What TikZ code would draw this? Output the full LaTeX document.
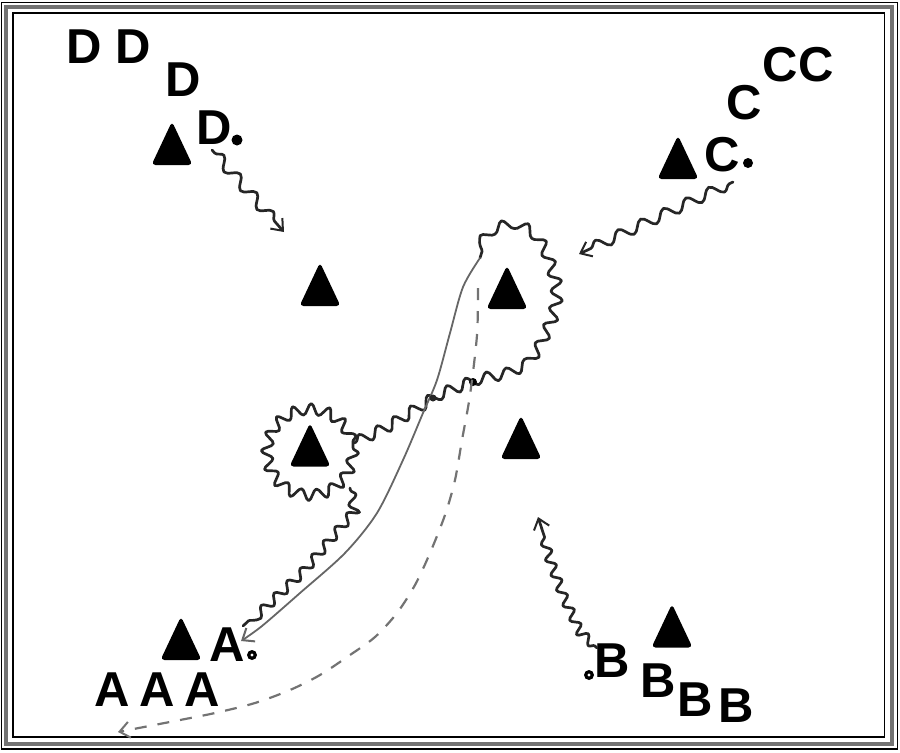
\documentclass[tikz,border=0pt]{standalone}
\usepackage{fontspec}
\setmainfont{Liberation Sans}
\usetikzlibrary{decorations.pathmorphing,arrows.meta}
\begin{document}
\begin{tikzpicture}[x=0.5pt,y=-0.5pt,
  lbl/.style={font=\fontsize{24.5}{28}\selectfont\bfseries, inner sep=0pt, anchor=center},
  cone/.pic={\fill[black, rounded corners=2pt] (-20.5,21.5) -- (0,-22) -- (20.5,21.5) -- cycle;},
  tipb/.style={-{Straight Barb[length=5pt,width=8pt,line width=1pt]}},
  wave/.style={draw=black!85, line width=1.35pt, line cap=round, line join=round,
    decorate, decoration={snake, amplitude=2.75pt, segment length=12.5pt, pre length=2pt, post length=4pt}},
  ring/.style={draw=black!85, line width=1.35pt, line join=round,
    decorate, decoration={snake, amplitude=2.75pt, segment length=8.45pt}},
  route/.style={draw=black!60, line width=0.9pt, line cap=round},
  dashroute/.style={draw=black!55, line width=1.1pt, dash pattern=on 6pt off 5.5pt},
  frameline/.style={draw=black, line width=0.6pt}
]
\useasboundingbox (0,0) rectangle (900,752);
% frame
\draw[frameline] (1.5,2.5) rectangle (897.5,749);
\draw[draw=black!55, line width=2pt] (5.5,7) rectangle (892,743.5);
\draw[frameline] (13,13) rectangle (884.5,737);

% letters
\node[lbl] (d1) at (84,47) {D};
\node[lbl] (d2) at (133,47) {D};
\node[lbl] (d3) at (183,80) {D};
\node[lbl] (d4) at (214,128) {D};
\node[lbl] (c1) at (780,65) {C};
\node[lbl] (c2) at (816,65) {C};
\node[lbl] (c3) at (744,103) {C};
\node[lbl] (c4) at (722,155) {C};
\node[lbl] (a1) at (112,690) {A};
\node[lbl] (a2) at (157,690) {A};
\node[lbl] (a3) at (202,690) {A};
\node[lbl] (a4) at (227,645) {A};
\node[lbl] (b1) at (612,661) {B};
\node[lbl] (b2) at (658,681) {B};
\node[lbl] (b3) at (695,700) {B};
\node[lbl] (b4) at (736,706) {B};

% dots
\fill (237,140) circle[radius=5.5];
\fill (748,163) circle[radius=5];
\fill (252,655) circle[radius=5]; \fill[white] (252,655) circle[radius=1.6];
\fill (589,675) circle[radius=5]; \fill[white] (589,675) circle[radius=1.6];

% cones
\pic (tD) at (172,143.5) {cone};
\pic (tC) at (678,157.5) {cone};
\pic (t1) at (320,284.5) {cone};
\pic (t2) at (507,287.5) {cone};
\pic (t3) at (310,445) {cone};
\pic (t4) at (521,437.5) {cone};
\pic (tA) at (181,638.5) {cone};
\pic (tB) at (672,626) {cone};

% coordinates
\coordinate (dS) at (212,150);
\coordinate (dE) at (284,232);
\coordinate (cS) at (733,182);
\coordinate (cE) at (579,254);
\coordinate (bS) at (597,648);
\coordinate (bE) at (538,517);
\coordinate (ringC) at (310,448);
\coordinate (jn) at (473,382);
\coordinate (loopS) at (354,443);
\coordinate (loopE) at (480,258);
\coordinate (aW) at (350,488);
\coordinate (aE) at (241,641);
\coordinate (dashS) at (478,288);
\coordinate (dashE) at (118,732);

% D and C waves
\draw[wave, tipb] (dS) -- (dE);
\draw[wave, tipb] (cS) -- (cE);

% B wave
\draw[wave, tipb, decoration={snake, amplitude=2.2pt, segment length=8pt, pre length=1.5pt, post length=8pt}]
  (bS) -- (580,632) -- (565,600) -- (551,562) -- (544,535) -- (bE);

% left ring
\draw[ring] (ringC) circle[radius=43];

% wave from ring to junction and loop around top cone
\draw[wave, decoration={snake, amplitude=2.75pt, segment length=10pt, pre length=1pt, post length=1pt}]
  (loopS) -- (385,428) -- (433,398) -- (jn) -- (503,376) -- (520,368) -- (532,350) -- (542,328) -- (548,303) -- (547,280) -- (540,258) -- (528,238) -- (510,228) -- (493,233) -- (484,245) -- (loopE);

% wave from ring down to A
\draw[wave, decoration={snake, amplitude=2.3pt, segment length=9pt, pre length=1pt, post length=1pt}]
  (aW) -- (354,508) -- (300,572) -- (243,626);

% solid route
\draw[route, tipb] plot[smooth] coordinates {(480,258) (463,287) (450,333) (437,380) (423,413) (403,460) (377,513) (345,553) (300,593) (262,626) (241,641)};
\fill[black!85] (433,398) circle[radius=3.5];
\fill (jn) circle[radius=4];

% dashed route
\draw[dashroute, tipb] plot[smooth] coordinates {(478,288) (477,335) (470,395) (462,440) (455,480) (445,515) (430,553) (415,585) (397,613) (375,637) (350,655) (320,675) (290,690) (255,703) (215,713) (180,720) (118,732)};
\end{tikzpicture}
\end{document}
